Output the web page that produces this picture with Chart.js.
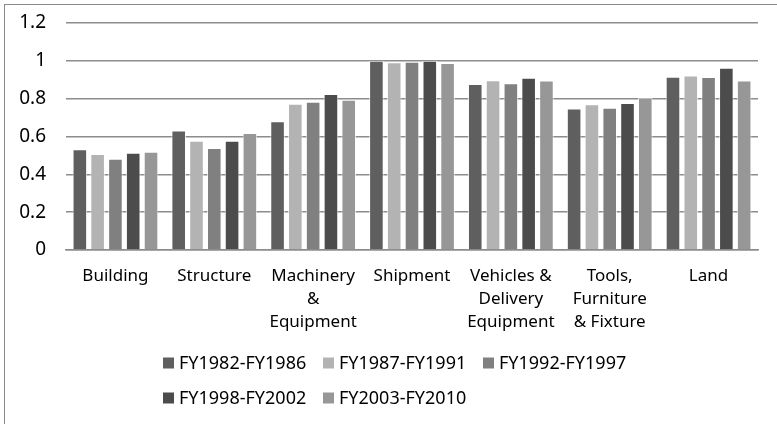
<!DOCTYPE html>
<html>
<head>
<meta charset="utf-8">
<script src="https://cdn.jsdelivr.net/npm/chart.js@4"></script>
<style>
  html, body { margin: 0; padding: 0; background: #fff; }
  #wrap { width: 777px; height: 424px; position: relative; }
</style>
</head>
<body>
<div id="wrap"><canvas id="myChart"></canvas></div>
<script>
const categories = ['Building', 'Structure', ['Machinery', '&', 'Equipment'], 'Shipment',
  ['Vehicles &', 'Delivery', 'Equipment'], ['Tools,', 'Furniture', '& Fixture'], 'Land'];
const seriesNames = ['FY1982-FY1986', 'FY1987-FY1991', 'FY1992-FY1997', 'FY1998-FY2002', 'FY2003-FY2010'];
const fy1982 = [0.532, 0.632, 0.680, 1.000, 0.877, 0.748, 0.916];
const fy1987 = [0.507, 0.577, 0.773, 0.993, 0.898, 0.770, 0.923];
const fy1992 = [0.482, 0.539, 0.784, 0.995, 0.882, 0.752, 0.914];
const fy1998 = [0.514, 0.578, 0.825, 1.000, 0.911, 0.777, 0.964];
const fy2003 = [0.520, 0.618, 0.794, 0.989, 0.896, 0.805, 0.896];
const yTicks = ['0', '0.2', '0.4', '0.6', '0.8', '1', '1.2'];
const colors = ['#5f5f5f', '#b3b3b3', '#808080', '#4c4c4c', '#979797'];

const FONT = "'Noto Sans', sans-serif";

// outer frame + legend with left-aligned rows, as in the original
const framePlugin = {
  id: 'frame',
  afterDraw(chart) {
    const ctx = chart.ctx;
    ctx.save();
    ctx.strokeStyle = '#8a8a8a';
    ctx.lineWidth = 1;
    ctx.strokeRect(4.5, 4.5, 900, 600);

    ctx.font = '18px ' + FONT;
    ctx.textBaseline = 'middle';
    chart.data.datasets.forEach((ds, i) => {
      const row = Math.floor(i / 3), col = i % 3;
      const x = 163 + col * 160;
      const y = 363 + row * 35;
      ctx.fillStyle = ds.backgroundColor;
      ctx.fillRect(x, y - 5.5, 11, 11);
      ctx.fillStyle = '#000';
      ctx.fillText(ds.label, x + 16, y + 1);
    });
    ctx.restore();
  }
};

const allSeries = [fy1982, fy1987, fy1992, fy1998, fy2003];

const config = {
  type: 'bar',
  data: {
    labels: categories,
    datasets: allSeries.map((d, i) => ({
      label: seriesNames[i],
      data: d,
      backgroundColor: colors[i],
      borderColor: 'rgba(255,255,255,0.7)',
      borderWidth: 1,
      barPercentage: 0.82,
      categoryPercentage: 0.9
    }))
  },
  options: {
    responsive: true,
    maintainAspectRatio: false,
    animation: false,
    layout: { padding: { top: 23, right: 19, left: 0, bottom: 0 } },
    scales: {
      y: {
        min: 0,
        max: 1.2,
        afterFit: (scale) => { scale.width = 66; },
        grid: { color: '#8c8c8c', lineWidth: 1.5, tickColor: 'rgba(0,0,0,0)' },
        border: { display: false },
        ticks: {
          stepSize: 0.2,
          padding: 12,
          color: '#000',
          font: { family: FONT, size: 19, lineHeight: 0.6 },
          callback: (v, i) => yTicks[i]
        }
      },
      x: {
        afterFit: (scale) => { scale.height = 174; },
        grid: { display: false, drawTicks: false },
        border: { display: true, color: '#8c8c8c', width: 1.5 },
        ticks: {
          padding: 14,
          color: '#000',
          maxRotation: 0,
          autoSkip: false,
          font: { family: FONT, size: 17, lineHeight: 1.38 }
        }
      }
    },
    plugins: {
      legend: { display: false },
      tooltip: { enabled: false }
    }
  },
  plugins: [framePlugin]
};

const myChart = new Chart(document.getElementById('myChart'), config);
</script>
</body>
</html>
